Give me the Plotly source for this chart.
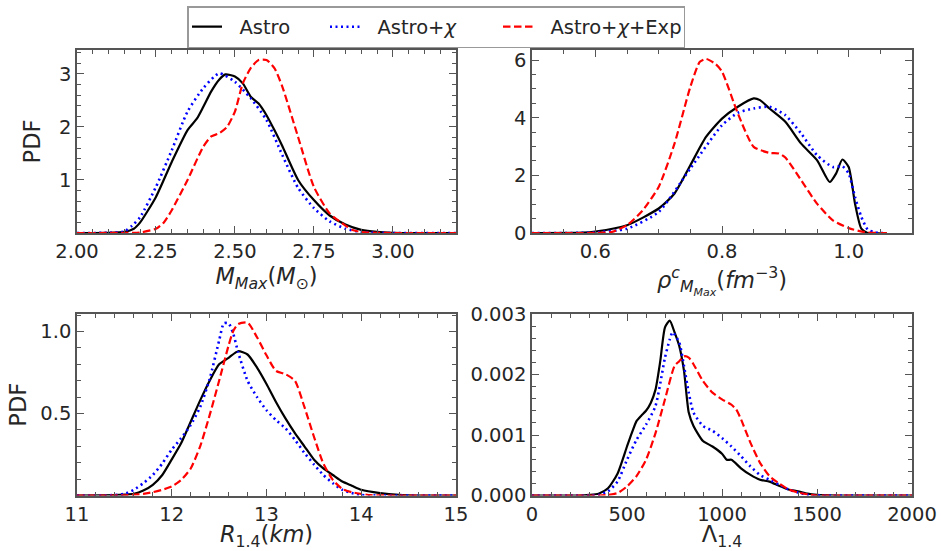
import plotly.graph_objects as go

W, H = 941, 551

# ---------------- data ----------------
series_names = ["Astro", "Astro+<i>χ</i>", "Astro+<i>χ</i>+Exp"]

# Panel 1: M_Max
mmax_x_astro = [2.00, 2.10, 2.15, 2.18, 2.20, 2.25, 2.30, 2.35, 2.38, 2.40, 2.425, 2.45, 2.47, 2.50, 2.525, 2.55, 2.575, 2.60, 2.625, 2.65, 2.70, 2.75, 2.80, 2.85, 2.90, 2.95, 3.00, 3.10, 3.20]
mmax_y_astro = [0, 0.003, 0.02, 0.08, 0.2, 0.68, 1.34, 1.94, 2.16, 2.38, 2.67, 2.89, 2.99, 2.95, 2.82, 2.57, 2.44, 2.22, 1.94, 1.64, 1.0, 0.62, 0.33, 0.16, 0.06, 0.02, 0.005, 0, 0]
mmax_x_chi = [2.00, 2.10, 2.15, 2.175, 2.20, 2.25, 2.30, 2.35, 2.40, 2.45, 2.50, 2.55, 2.60, 2.65, 2.70, 2.75, 2.80, 2.85, 2.90, 2.95, 3.00, 3.20]
mmax_y_chi = [0, 0.005, 0.03, 0.14, 0.3, 0.87, 1.56, 2.29, 2.73, 3.01, 2.85, 2.54, 2.13, 1.47, 0.85, 0.47, 0.22, 0.08, 0.02, 0.005, 0, 0]
mmax_x_exp = [2.00, 2.15, 2.20, 2.25, 2.275, 2.30, 2.35, 2.40, 2.425, 2.45, 2.475, 2.50, 2.525, 2.55, 2.575, 2.60, 2.625, 2.65, 2.70, 2.75, 2.80, 2.85, 2.875, 2.90, 2.95, 3.00, 3.20]
mmax_y_exp = [0, 0.002, 0.01, 0.08, 0.2, 0.43, 1.0, 1.63, 1.82, 1.88, 2.0, 2.29, 2.82, 3.11, 3.26, 3.26, 3.11, 2.76, 1.81, 0.87, 0.37, 0.14, 0.05, 0.02, 0.003, 0, 0]

# Panel 2: central density at M_Max
rho_x_astro = [0.50, 0.58, 0.60, 0.65, 0.70, 0.725, 0.75, 0.775, 0.80, 0.825, 0.85, 0.86, 0.875, 0.90, 0.925, 0.95, 0.97, 0.98, 0.99, 1.00, 1.01, 1.02, 1.03, 1.06]
rho_y_astro = [0, 0.01, 0.05, 0.27, 0.85, 1.37, 2.35, 3.34, 3.97, 4.38, 4.67, 4.61, 4.32, 3.86, 3.10, 2.53, 1.77, 2.06, 2.55, 2.29, 1.02, 0.15, 0, 0]
rho_x_chi = [0.50, 0.58, 0.60, 0.65, 0.70, 0.75, 0.80, 0.825, 0.85, 0.875, 0.90, 0.925, 0.95, 0.975, 0.99, 1.00, 1.01, 1.02, 1.03, 1.04, 1.05, 1.06]
rho_y_chi = [0, 0.005, 0.02, 0.15, 0.73, 2.24, 3.74, 4.17, 4.32, 4.38, 4.09, 3.45, 2.70, 2.29, 2.32, 2.06, 1.25, 0.56, 0.12, 0.03, 0, 0]
rho_x_exp = [0.50, 0.60, 0.625, 0.65, 0.675, 0.70, 0.725, 0.75, 0.765, 0.775, 0.79, 0.80, 0.825, 0.85, 0.875, 0.89, 0.90, 0.925, 0.95, 0.975, 1.00, 1.025, 1.05, 1.06]
rho_y_exp = [0, 0.003, 0.03, 0.27, 0.79, 1.60, 3.10, 5.07, 5.94, 6.04, 5.86, 5.60, 4.15, 2.99, 2.78, 2.76, 2.62, 1.83, 1.02, 0.44, 0.17, 0.03, 0, 0]

# Panel 3: R_1.4
r_x_astro = [11.0, 11.4, 11.5, 11.6, 11.7, 11.8, 11.9, 12.0, 12.1, 12.2, 12.3, 12.4, 12.5, 12.6, 12.7, 12.8, 12.9, 13.0, 13.1, 13.2, 13.3, 13.4, 13.5, 13.6, 13.7, 13.8, 13.9, 14.0, 14.2, 14.4, 14.6, 15.0]
r_y_astro = [0, 0.002, 0.005, 0.01, 0.03, 0.065, 0.125, 0.22, 0.32, 0.45, 0.58, 0.70, 0.80, 0.84, 0.88, 0.86, 0.78, 0.68, 0.57, 0.47, 0.38, 0.30, 0.22, 0.165, 0.125, 0.085, 0.06, 0.035, 0.015, 0.004, 0, 0]
r_x_chi = [11.0, 11.3, 11.4, 11.5, 11.6, 11.7, 11.8, 11.9, 12.0, 12.1, 12.2, 12.3, 12.4, 12.5, 12.55, 12.6, 12.65, 12.7, 12.8, 12.9, 13.0, 13.1, 13.2, 13.3, 13.4, 13.5, 13.6, 13.7, 13.8, 13.9, 14.0, 14.2, 15.0]
r_y_chi = [0, 0.001, 0.003, 0.01, 0.035, 0.075, 0.125, 0.195, 0.28, 0.35, 0.43, 0.54, 0.71, 0.945, 1.05, 1.05, 0.985, 0.875, 0.70, 0.60, 0.52, 0.46, 0.41, 0.34, 0.26, 0.19, 0.125, 0.075, 0.035, 0.015, 0.003, 0, 0]
r_x_exp = [11.0, 11.5, 11.6, 11.7, 11.8, 11.9, 12.0, 12.1, 12.2, 12.3, 12.4, 12.5, 12.6, 12.65, 12.7, 12.8, 12.9, 13.0, 13.1, 13.2, 13.3, 13.4, 13.5, 13.6, 13.7, 13.8, 13.9, 14.0, 14.1, 14.3, 15.0]
r_y_exp = [0, 0.001, 0.005, 0.01, 0.02, 0.035, 0.055, 0.095, 0.165, 0.30, 0.49, 0.70, 0.915, 1.005, 1.045, 1.055, 0.965, 0.855, 0.76, 0.74, 0.70, 0.54, 0.36, 0.195, 0.095, 0.04, 0.02, 0.01, 0.002, 0, 0]

# Panel 4: Lambda_1.4
lam_x_astro = [0, 250, 300, 350, 400, 450, 500, 525, 550, 575, 600, 625, 650, 675, 700, 725, 750, 775, 800, 825, 850, 900, 950, 1000, 1025, 1050, 1100, 1150, 1200, 1250, 1300, 1350, 1400, 1450, 1500, 1600, 2000]
lam_y_astro = [0, 0, 0.00001, 0.00003, 0.00012, 0.00036, 0.00081, 0.00103, 0.00123, 0.00132, 0.00140, 0.00153, 0.00175, 0.00222, 0.00278, 0.00289, 0.00270, 0.00247, 0.00206, 0.00137, 0.00115, 0.00090, 0.00081, 0.00069, 0.00059, 0.00059, 0.00045, 0.00034, 0.00026, 0.00023, 0.00016, 0.00010, 0.00007, 0.00003, 0.00001, 0, 0]
lam_x_chi = [0, 300, 350, 400, 450, 500, 550, 600, 650, 700, 725, 740, 775, 800, 825, 850, 900, 950, 1000, 1050, 1100, 1150, 1200, 1250, 1300, 1350, 1400, 1450, 1550, 2000]
lam_y_chi = [0, 0, 0.00001, 0.00007, 0.00023, 0.00059, 0.00092, 0.00117, 0.00148, 0.00228, 0.00258, 0.00270, 0.00253, 0.00214, 0.00170, 0.00137, 0.00115, 0.00107, 0.00095, 0.00081, 0.00065, 0.00048, 0.00034, 0.00026, 0.00018, 0.00010, 0.00005, 0.00001, 0, 0]
lam_x_exp = [0, 350, 400, 450, 500, 550, 600, 650, 700, 750, 775, 800, 825, 850, 900, 950, 1000, 1050, 1075, 1100, 1150, 1200, 1250, 1300, 1350, 1400, 1450, 1500, 1600, 2000]
lam_y_exp = [0, 0, 0.00001, 0.00004, 0.00015, 0.00032, 0.00059, 0.00103, 0.00159, 0.00214, 0.00222, 0.00230, 0.00228, 0.00217, 0.00189, 0.00170, 0.00159, 0.00150, 0.00142, 0.00126, 0.00087, 0.00054, 0.00032, 0.00020, 0.00010, 0.00005, 0.00002, 0, 0, 0]

panels = [
    [(mmax_x_astro, mmax_y_astro), (mmax_x_chi, mmax_y_chi), (mmax_x_exp, mmax_y_exp)],
    [(rho_x_astro, rho_y_astro), (rho_x_chi, rho_y_chi), (rho_x_exp, rho_y_exp)],
    [(r_x_astro, r_y_astro), (r_x_chi, r_y_chi), (r_x_exp, r_y_exp)],
    [(lam_x_astro, lam_y_astro), (lam_x_chi, lam_y_chi), (lam_x_exp, lam_y_exp)],
]

# ---------------- styling ----------------
FONT = "DejaVu Sans"
TXT = "#262626"
AX = "#555555"
styles = [
    dict(color="black", width=2.2, dash="solid"),
    dict(color="#0000ff", width=2.6, dash="2px,3.5px"),
    dict(color="#ff0000", width=2.2, dash="7.5px,3.5px"),
]
legend_widths = [93, 128, 140]
PAD = "\u00a0\u00a0"

fig = go.Figure()
for p, series in enumerate(panels):
    axid = "" if p == 0 else str(p + 1)
    for s, (xs, ys) in enumerate(series):
        fig.add_trace(go.Scatter(
            x=xs, y=ys, mode="lines",
            line=dict(shape="spline", smoothing=0.6, **styles[s]),
            name=PAD + series_names[s], legendgroup=series_names[s],
            showlegend=(p == 0), legendwidth=legend_widths[s],
            xaxis="x" + axid, yaxis="y" + axid,
        ))

def px_dom_x(a, b):
    return [a / W, b / W]

def px_dom_y(top, bottom):
    return [1 - bottom / H, 1 - top / H]

def axis(domain, rng, tickvals, fmt, minor_dtick, minor_tick0, anchor, title=None, standoff=None):
    d = dict(
        domain=domain, range=rng, tickmode="array", tickvals=tickvals, tickformat=fmt,
        ticks="inside", ticklen=7, tickwidth=1.4, tickcolor=AX,
        showline=True, linecolor=AX, linewidth=1.5, mirror="allticks",
        showgrid=False, zeroline=False, anchor=anchor, automargin=False,
        tickfont=dict(family=FONT, size=19.5, color=TXT),
        minor=dict(tickmode="linear", dtick=minor_dtick, tick0=minor_tick0,
                   ticks="inside", ticklen=4, tickwidth=1.2, tickcolor=AX, showgrid=False),
    )
    if title is not None:
        d["title"] = dict(text=title, font=dict(family=FONT, size=22.5, color=TXT), standoff=standoff)
    return d

xL = px_dom_x(77, 456)
xR = px_dom_x(532, 912)
yT = px_dom_y(50, 233)
yB = px_dom_y(314, 495.5)

fig.update_layout(
    width=W, height=H,
    margin=dict(l=0, r=0, t=0, b=0),
    paper_bgcolor="white", plot_bgcolor="white",
    font=dict(family=FONT, color=TXT),
    xaxis=axis(xL, [2.0, 3.2], [2.0, 2.25, 2.5, 2.75, 3.0], ".2f", 0.05, 2.0, "y",
               "<i>M</i><sub><i>Max</i></sub>(<i>M</i><sub>⊙</sub>)", 3),
    yaxis=axis(yT, [0, 3.45], [1, 2, 3], "d", 0.2, 0, "x", "PDF", 12),
    xaxis2=axis(xR, [0.5, 1.1], [0.6, 0.8, 1.0], ".1f", 0.05, 0.5, "y2",
                "<i>ρ</i><sup><i>c</i></sup><sub><i>M</i><sub><i>Max</i></sub></sub>(<i>fm</i><sup>−3</sup>)", 1),
    yaxis2=axis(yT, [0, 6.35], [0, 2, 4, 6], "d", 0.5, 0, "x2"),
    xaxis3=axis(xL, [11, 15], [11, 12, 13, 14, 15], "d", 0.2, 11, "y3",
                "<i>R</i><sub>1.4</sub>(<i>km</i>)", 3),
    yaxis3=axis(yB, [0, 1.107], [0.5, 1.0], ".1f", 0.1, 0, "x3", "PDF", 7),
    xaxis4=axis(xR, [0, 2000], [0, 500, 1000, 1500, 2000], "d", 100, 0, "y4",
                "Λ<sub>1.4</sub>", 3),
    yaxis4=axis(yB, [0, 0.003], [0, 0.001, 0.002, 0.003], ".3f", 0.0002, 0, "x4"),
    legend=dict(
        orientation="h", x=187 / W, y=1 - 6 / H, xanchor="left", yanchor="top",
        bordercolor="#999999", borderwidth=1.5, bgcolor="white",
        font=dict(family=FONT, size=19.5, color=TXT),
    ),
)

fig.write_html("out.html")
